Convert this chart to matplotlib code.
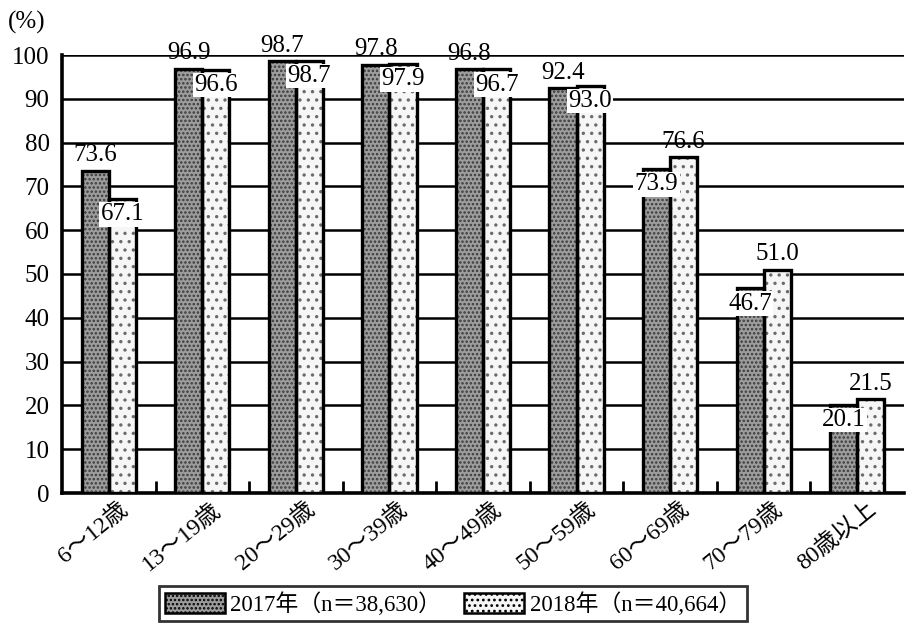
import matplotlib
matplotlib.use("Agg")
import matplotlib.pyplot as plt
from matplotlib.patches import Patch
from matplotlib.transforms import ScaledTranslation
import numpy as np

plt.rcParams['font.family'] = ['Liberation Serif', 'Noto Sans CJK JP']
plt.rcParams['hatch.linewidth'] = 1.2

categories = ['6～12歳', '13～19歳', '20～29歳', '30～39歳', '40～49歳',
              '50～59歳', '60～69歳', '70～79歳', '80歳以上']
rate_2017 = [73.6, 96.9, 98.7, 97.8, 96.8, 92.4, 73.9, 46.7, 20.1]
rate_2018 = [67.1, 96.6, 98.7, 97.9, 96.7, 93.0, 76.6, 51.0, 21.5]
series_labels = ['2017年（n＝38,630）', '2018年（n＝40,664）']
y_ticks = list(range(0, 101, 10))

W, H = 906, 636
fig = plt.figure(figsize=(W / 100, H / 100), dpi=100)
ax = fig.add_axes([62 / W, 1 - 493 / H, (904 - 62) / W, (493 - 55) / H])

x = np.arange(len(categories))
w = 0.29
styles = [
    dict(face='#9d9d9d', hatch='....', hatch_color='#3a3a3a'),
    dict(face='#f6f6f6', hatch='..', hatch_color='#6a6a6a'),
]

for vals, off, st in zip([rate_2017, rate_2018], [-w / 2, w / 2], styles):
    with plt.rc_context({'hatch.color': st['hatch_color']}):
        ax.bar(x + off, vals, w, facecolor=st['face'], hatch=st['hatch'],
               linewidth=0, zorder=3)
    ax.bar(x + off, vals, w, facecolor='none', edgecolor='black',
           linewidth=2.4, zorder=4)

# value labels: the taller bar of each pair gets its label above,
# the other one a boxed label just under its top edge
for i in range(len(categories)):
    a, b = rate_2017[i], rate_2018[i]
    if b - a > 1:
        up = (x[i] + w / 2, b)
        low = (x[i] - w / 2, a)
    else:
        up = (x[i] - w / 2, a)
        low = (x[i] + w / 2, b)
    ax.annotate(f'{up[1]:.1f}', up, xytext=(0, 3), textcoords='offset points',
                ha='center', va='bottom', fontsize=18, zorder=6)
    ax.annotate(f'{low[1]:.1f}', low, xytext=(0, -3), textcoords='offset points',
                ha='center', va='top', fontsize=18, zorder=6,
                bbox=dict(boxstyle='square,pad=0.05', fc='white', ec='none'))

ax.set_xlim(-0.5, len(categories) - 0.5)
ax.set_ylim(0, 100)
ax.set_yticks(y_ticks)
ax.tick_params(axis='y', length=0, pad=9, labelsize=18)

ax.set_xticks(x)
ax.set_xticklabels(categories, rotation=39, ha='right', va='center',
                   rotation_mode='anchor', fontsize=17)
ax.tick_params(axis='x', which='major', length=0, pad=10)
shift = ScaledTranslation(16 / 100, 0, fig.dpi_scale_trans)
for lab in ax.get_xticklabels():
    lab.set_transform(lab.get_transform() + shift)
ax.set_xticks(np.arange(0.5, len(categories) - 1, 1), minor=True)
ax.tick_params(axis='x', which='minor', direction='in', length=9, width=2)

ax.yaxis.grid(True, color='black', linewidth=1.8)
ax.set_axisbelow(True)
for side in ['top', 'right']:
    ax.spines[side].set_visible(False)
for side in ['left', 'bottom']:
    ax.spines[side].set_linewidth(2.6)

fig.text(8 / W, 1 - 22 / H, '(%)', fontsize=18, va='center', ha='left')

handles = [
    Patch(facecolor=styles[0]['face'], hatch='....', edgecolor='black', linewidth=1.8),
    Patch(facecolor=styles[1]['face'], hatch='...', edgecolor='black', linewidth=1.8),
]
leg = fig.legend(handles, series_labels, loc='lower center',
                 bbox_to_anchor=(0.5, 0.005), ncol=2, frameon=True,
                 fancybox=False, edgecolor='black', fontsize=16.5,
                 handlelength=2.6, handleheight=1.0, columnspacing=1.0,
                 handletextpad=0.25, borderpad=0.25)
leg.get_frame().set_linewidth(2)

fig.savefig('out.png', dpi=100)
